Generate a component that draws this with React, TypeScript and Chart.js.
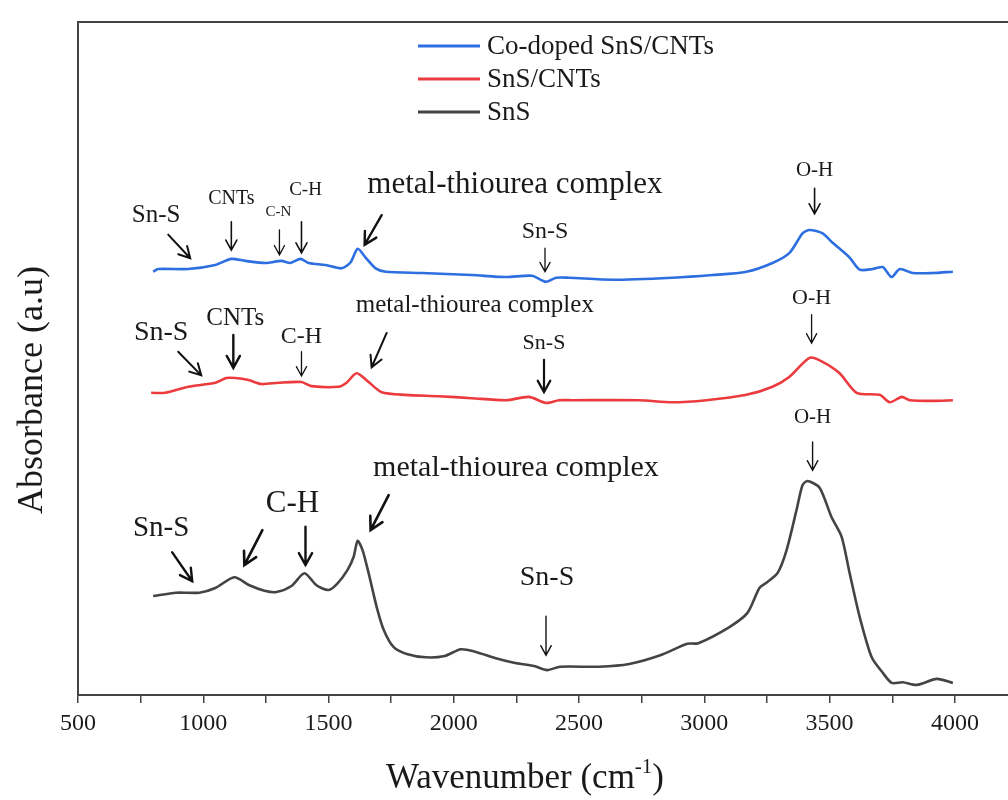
import React, { useEffect, useRef } from "react";
import { Chart, registerables } from "chart.js";
Chart.register(...registerables);

// Wavenumber (cm-1) and absorbance (arbitrary offset units)
const wnCo = [800, 820, 940, 1048, 1112, 1168, 1248, 1312, 1348, 1388, 1420, 1488, 1552, 1588, 1616, 1648, 1688, 1728, 1872, 2072, 2208, 2312, 2368, 2408, 2460, 2632, 2872, 3032, 3168, 3272, 3340, 3392, 3420, 3472, 3512, 3580, 3620, 3672, 3712, 3728, 3748, 3780, 3832, 3912, 3992];
const absCo = [62.9, 63.3, 63.3, 63.9, 64.8, 64.5, 64.2, 64.5, 64.2, 64.8, 64.2, 63.9, 63.4, 64.3, 66.3, 65.0, 63.4, 62.9, 62.7, 62.4, 62.1, 62.3, 61.4, 62.0, 62.0, 61.7, 62.0, 62.4, 62.9, 64.2, 65.7, 68.6, 69.1, 68.6, 67.2, 65.0, 63.2, 63.3, 63.6, 62.9, 62.1, 63.3, 62.7, 62.7, 62.9];

const wnSnSCNT = [792, 848, 940, 1048, 1092, 1128, 1180, 1232, 1300, 1392, 1432, 1540, 1572, 1612, 1660, 1712, 1808, 1940, 2072, 2208, 2300, 2368, 2420, 2472, 2740, 2872, 3008, 3168, 3272, 3340, 3420, 3472, 3540, 3608, 3700, 3740, 3788, 3820, 3912, 3992];
const absSnSCNT = [44.9, 44.9, 45.8, 46.4, 47.1, 47.1, 46.8, 46.2, 46.4, 46.5, 45.9, 45.8, 46.4, 47.8, 46.5, 45.0, 44.6, 44.4, 44.1, 43.8, 44.3, 43.4, 43.8, 43.8, 43.8, 43.5, 43.8, 44.6, 45.8, 47.3, 50.1, 49.5, 47.8, 44.9, 44.6, 43.5, 44.3, 43.8, 43.7, 43.8];

const wnSnS = [800, 892, 984, 1048, 1124, 1184, 1244, 1292, 1352, 1404, 1452, 1500, 1536, 1576, 1600, 1616, 1636, 1660, 1692, 1720, 1760, 1812, 1888, 1964, 2028, 2088, 2164, 2240, 2320, 2372, 2424, 2580, 2700, 2824, 2932, 2976, 3100, 3172, 3220, 3252, 3292, 3328, 3368, 3392, 3412, 3460, 3508, 3548, 3580, 3620, 3668, 3712, 3748, 3792, 3848, 3928, 3992];
const absSnS = [14.7, 15.2, 15.2, 15.9, 17.5, 16.3, 15.5, 15.3, 16.2, 18.1, 16.3, 15.6, 16.6, 18.6, 20.5, 22.9, 21.5, 18.1, 13.1, 9.7, 7.1, 6.1, 5.6, 5.8, 6.8, 6.4, 5.5, 4.8, 4.3, 3.7, 4.2, 4.2, 4.6, 5.9, 7.6, 7.7, 10.1, 12.2, 15.9, 16.8, 18.1, 21.5, 27.5, 31.2, 31.8, 30.8, 26.4, 23.5, 18.1, 11.6, 5.6, 3.3, 1.8, 1.9, 1.5, 2.4, 1.8];

const seriesNames = ["Co-doped SnS/CNTs", "SnS/CNTs", "SnS"];
const seriesColors = ["#2d6fe0", "#ec3b3e", "#444444"];

const xTickValues = [500, 1000, 1500, 2000, 2500, 3000, 3500, 4000];

// Peak annotations: text label positions (wavenumber, absorbance) and font size
const labelTexts = ["Sn-S", "CNTs", "C-N", "C-H", "metal-thiourea complex", "Sn-S", "O-H",
  "Sn-S", "CNTs", "C-H", "metal-thiourea complex", "Sn-S", "O-H",
  "Sn-S", "C-H", "metal-thiourea complex", "Sn-S", "O-H"];
const labelWn = [812, 1112, 1300, 1408, 2244, 2364, 3440,
  832, 1128, 1392, 2084, 2360, 3428,
  832, 1356, 2248, 2372, 3432];
const labelAbs = [71.3, 73.7, 71.8, 75.0, 75.8, 68.8, 78.0,
  53.8, 56.0, 53.3, 57.9, 52.2, 59.0,
  24.8, 28.4, 33.7, 17.4, 41.2];
const labelSize = [25, 20, 15, 19, 31, 24, 21,
  28, 25, 24, 25, 22, 22,
  29, 31, 30, 28, 21];

// Arrows: start (wn, abs) -> tip (wn, abs)
const arrowWn1 = [860, 1112, 1304, 1392, 1712, 2364, 3440, 900, 1120, 1392, 1732, 2360, 3428, 876, 1236, 1408, 1740, 2368, 3432];
const arrowAbs1 = [68.4, 70.3, 69.1, 70.3, 71.3, 66.4, 75.3, 51.0, 53.5, 51.0, 53.8, 49.8, 56.5, 21.2, 24.5, 25.0, 29.7, 11.7, 37.6];
const arrowWn2 = [948, 1112, 1304, 1392, 1644, 2364, 3440, 992, 1120, 1392, 1672, 2360, 3428, 956, 1164, 1408, 1668, 2368, 3432];
const arrowAbs2 = [64.9, 66.1, 65.4, 65.7, 66.9, 62.9, 71.5, 47.5, 48.6, 47.4, 48.7, 45.0, 52.3, 16.9, 19.3, 19.3, 24.5, 5.9, 33.4];
const arrowWidth = [2, 1.6, 1.3, 1.6, 2.4, 1.3, 1.6, 2, 2.4, 1.3, 2, 2.2, 1.3, 2.4, 2.6, 2.4, 2.6, 1.4, 1.4];

const SERIF = "'Liberation Serif', 'Times New Roman', serif";

const decorPlugin = {
  id: "decor",
  afterDatasetsDraw(chart: any) {
    const ctx = chart.ctx;
    const xs = chart.scales.x;
    const ys = chart.scales.y;
    const ca = chart.chartArea;
    ctx.save();
    // frame: top and left borders
    ctx.strokeStyle = "#444";
    ctx.lineWidth = 2;
    ctx.beginPath();
    ctx.moveTo(ca.left, ca.bottom);
    ctx.lineTo(ca.left, ca.top);
    ctx.lineTo(ca.right, ca.top);
    ctx.stroke();

    // annotations text
    ctx.fillStyle = "#1a1a1a";
    ctx.textAlign = "center";
    ctx.textBaseline = "middle";
    for (let i = 0; i < labelTexts.length; i++) {
      ctx.font = `${labelSize[i]}px ${SERIF}`;
      ctx.fillText(labelTexts[i], xs.getPixelForValue(labelWn[i]), ys.getPixelForValue(labelAbs[i]));
    }
    // arrows
    ctx.strokeStyle = "#111";
    ctx.lineCap = "round";
    ctx.lineJoin = "miter";
    for (let i = 0; i < arrowWn1.length; i++) {
      const x1 = xs.getPixelForValue(arrowWn1[i]);
      const y1 = ys.getPixelForValue(arrowAbs1[i]);
      const x2 = xs.getPixelForValue(arrowWn2[i]);
      const y2 = ys.getPixelForValue(arrowAbs2[i]);
      const ang = Math.atan2(y2 - y1, x2 - x1);
      const head = 7 + arrowWidth[i] * 2.8;
      ctx.lineWidth = arrowWidth[i];
      ctx.beginPath();
      ctx.moveTo(x1, y1);
      ctx.lineTo(x2, y2);
      ctx.moveTo(x2 - head * Math.cos(ang - 0.5), y2 - head * Math.sin(ang - 0.5));
      ctx.lineTo(x2, y2);
      ctx.lineTo(x2 - head * Math.cos(ang + 0.5), y2 - head * Math.sin(ang + 0.5));
      ctx.stroke();
    }

    // legend
    const lx = 418, lw = 62, ly0 = 46, lstep = 33;
    ctx.textAlign = "left";
    ctx.font = `27px ${SERIF}`;
    for (let i = 0; i < seriesNames.length; i++) {
      const y = ly0 + i * lstep;
      ctx.strokeStyle = seriesColors[i];
      ctx.lineWidth = 3;
      ctx.lineCap = "butt";
      ctx.beginPath();
      ctx.moveTo(lx, y);
      ctx.lineTo(lx + lw, y);
      ctx.stroke();
      ctx.fillStyle = "#1a1a1a";
      ctx.fillText(seriesNames[i], lx + lw + 7, y + 1);
    }

    // y axis title
    ctx.save();
    ctx.translate(33, 390);
    ctx.rotate(-Math.PI / 2);
    ctx.textAlign = "center";
    ctx.textBaseline = "middle";
    ctx.font = `36px ${SERIF}`;
    ctx.fillStyle = "#1a1a1a";
    ctx.fillText("Absorbance (a.u)", 0, 0);
    ctx.restore();

    // x axis title with superscript
    const base = "Wavenumber (cm";
    const sup = "-1";
    const tail = ")";
    ctx.font = `35px ${SERIF}`;
    const w1 = ctx.measureText(base).width;
    const w3 = ctx.measureText(tail).width;
    ctx.font = `21px ${SERIF}`;
    const w2 = ctx.measureText(sup).width;
    const total = w1 + w2 + w3;
    let sx = 525 - total / 2;
    const by = 788;
    ctx.textAlign = "left";
    ctx.textBaseline = "alphabetic";
    ctx.font = `35px ${SERIF}`;
    ctx.fillText(base, sx, by);
    sx += w1;
    ctx.font = `21px ${SERIF}`;
    ctx.fillText(sup, sx, by - 15);
    sx += w2;
    ctx.font = `35px ${SERIF}`;
    ctx.fillText(tail, sx, by);
    ctx.restore();
  },
};

function toPoints(xs: number[], ys: number[]) {
  return xs.map((x, i) => ({ x, y: ys[i] }));
}

export default function App() {
  const ref = useRef<HTMLCanvasElement | null>(null);
  useEffect(() => {
    if (!ref.current) return;
    const datas = [toPoints(wnCo, absCo), toPoints(wnSnSCNT, absSnSCNT), toPoints(wnSnS, absSnS)];
    const chart = new Chart(ref.current, {
      type: "line",
      data: {
        datasets: seriesNames.map((name, i) => ({
          label: name,
          data: datas[i],
          borderColor: seriesColors[i],
          borderWidth: 2.6,
          pointRadius: 0,
          tension: 0.25,
          fill: false,
        })),
      },
      options: {
        animation: false,
        responsive: false,
        maintainAspectRatio: false,
        layout: { padding: { left: 78, top: 22, right: 0, bottom: 0 } },
        plugins: { legend: { display: false }, tooltip: { enabled: false } },
        scales: {
          x: {
            type: "linear",
            min: 500,
            max: 4212,
            afterFit: (scale: any) => { scale.height = 105; },
            afterBuildTicks: (scale: any) => {
              const t: any[] = [];
              for (let v = 500; v <= 4000; v += 250) t.push({ value: v });
              scale.ticks = t;
            },
            ticks: {
              autoSkip: false,
              maxRotation: 0,
              padding: 6,
              color: "#1a1a1a",
              font: { family: SERIF, size: 24 },
              callback: (v: any) => (xTickValues.includes(Number(v)) ? String(v) : ""),
            },
            grid: { drawOnChartArea: false, drawTicks: true, tickLength: 8, color: "#444", lineWidth: 1.5 },
            border: { display: true, color: "#444", width: 2 },
          },
          y: {
            display: false,
            min: 0,
            max: 100,
          },
        },
      },
      plugins: [decorPlugin],
    });
    return () => chart.destroy();
  }, []);
  return (
    <div style={{ position: "fixed", left: 0, top: 0, width: 1008, height: 800, background: "#fff" }}>
      <canvas ref={ref} width={1008} height={800} style={{ width: 1008, height: 800, display: "block" }} />
    </div>
  );
}
